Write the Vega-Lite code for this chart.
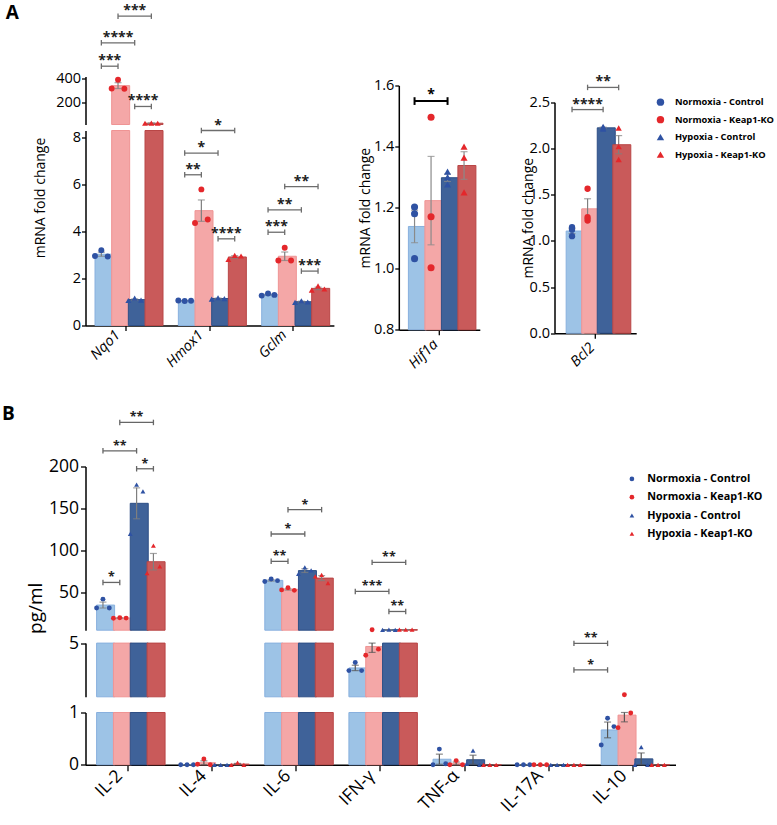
{
"$schema":"https://vega.github.io/schema/vega-lite/v6.json",
"padding":{"left":1.5,"top":3.5,"right":0,"bottom":0},
"config":{"font":"Open Sans","view":{"stroke":null},
 "axis":{"domainColor":"#000","domainWidth":1.5,"tickColor":"#000","tickWidth":1.3,"tickSize":5,"labelColor":"#000","titleColor":"#000","grid":false,"labelPadding":2,"titleFontWeight":"normal"},
 "legend":{"padding":0}},
"params":[{"name":"D","value":["Nqo1|NC","Nqo1|NK","Nqo1|HC","Nqo1|HK","sA1","Hmox1|NC","Hmox1|NK","Hmox1|HC","Hmox1|HK","sA2","Gclm|NC","Gclm|NK","Gclm|HC","Gclm|HK","Hif1a|NC","Hif1a|NK","Hif1a|HC","Hif1a|HK","Bcl2|NC","Bcl2|NK","Bcl2|HC","Bcl2|HK","IL-2|NC","IL-2|NK","IL-2|HC","IL-2|HK","sB1","IL-4|NC","IL-4|NK","IL-4|HC","IL-4|HK","sB2","IL-6|NC","IL-6|NK","IL-6|HC","IL-6|HK","sB3","IFN-γ|NC","IFN-γ|NK","IFN-γ|HC","IFN-γ|HK","sB4","TNF-α|NC","TNF-α|NK","TNF-α|HC","TNF-α|HK","sB5","IL-17A|NC","IL-17A|NK","IL-17A|HC","IL-17A|HK","sB6","IL-10|NC","IL-10|NK","IL-10|HC","IL-10|HK"]}],
"datasets":{
"a1":[
{"g":"Nqo1","c":"NC","v":2.95},{"g":"Nqo1","c":"NC","v":3.2},{"g":"Nqo1","c":"NC","v":2.93},
{"g":"Nqo1","c":"NK","v":318},{"g":"Nqo1","c":"NK","v":392},{"g":"Nqo1","c":"NK","v":316},
{"g":"Nqo1","c":"HC","v":1.06},{"g":"Nqo1","c":"HC","v":1.16},{"g":"Nqo1","c":"HC","v":1.08},
{"g":"Nqo1","c":"HK","v":21},{"g":"Nqo1","c":"HK","v":21.5},{"g":"Nqo1","c":"HK","v":20.5},
{"g":"Hmox1","c":"NC","v":1.06},{"g":"Hmox1","c":"NC","v":1.04},{"g":"Hmox1","c":"NC","v":1.05},
{"g":"Hmox1","c":"NK","v":4.35},{"g":"Hmox1","c":"NK","v":5.78},{"g":"Hmox1","c":"NK","v":4.5},
{"g":"Hmox1","c":"HC","v":1.12},{"g":"Hmox1","c":"HC","v":1.18},{"g":"Hmox1","c":"HC","v":1.14},
{"g":"Hmox1","c":"HK","v":2.8},{"g":"Hmox1","c":"HK","v":2.98},{"g":"Hmox1","c":"HK","v":2.95},
{"g":"Gclm","c":"NC","v":1.27},{"g":"Gclm","c":"NC","v":1.36},{"g":"Gclm","c":"NC","v":1.3},
{"g":"Gclm","c":"NK","v":2.76},{"g":"Gclm","c":"NK","v":3.3},{"g":"Gclm","c":"NK","v":2.76},
{"g":"Gclm","c":"HC","v":0.98},{"g":"Gclm","c":"HC","v":1.05},{"g":"Gclm","c":"HC","v":1.0},
{"g":"Gclm","c":"HK","v":1.5},{"g":"Gclm","c":"HK","v":1.68},{"g":"Gclm","c":"HK","v":1.55}],
"a2":[
{"g":"Hif1a","c":"NC","v":1.202},{"g":"Hif1a","c":"NC","v":1.18},{"g":"Hif1a","c":"NC","v":1.033},
{"g":"Hif1a","c":"NK","v":1.496},{"g":"Hif1a","c":"NK","v":1.17},{"g":"Hif1a","c":"NK","v":1.003},
{"g":"Hif1a","c":"HC","v":1.318},{"g":"Hif1a","c":"HC","v":1.3},{"g":"Hif1a","c":"HC","v":1.276},
{"g":"Hif1a","c":"HK","v":1.4},{"g":"Hif1a","c":"HK","v":1.364},{"g":"Hif1a","c":"HK","v":1.25}],
"a3":[
{"g":"Bcl2","c":"NC","v":1.147},{"g":"Bcl2","c":"NC","v":1.05},{"g":"Bcl2","c":"NC","v":1.12},
{"g":"Bcl2","c":"NK","v":1.22},{"g":"Bcl2","c":"NK","v":1.563},{"g":"Bcl2","c":"NK","v":1.255},
{"g":"Bcl2","c":"HC","v":2.21},{"g":"Bcl2","c":"HC","v":2.237},{"g":"Bcl2","c":"HC","v":2.22},
{"g":"Bcl2","c":"HK","v":1.88},{"g":"Bcl2","c":"HK","v":2.22},{"g":"Bcl2","c":"HK","v":2.02}],
"b":[
{"g":"IL-2","c":"NC","v":31.4},{"g":"IL-2","c":"NC","v":42},{"g":"IL-2","c":"NC","v":31.4},
{"g":"IL-2","c":"NK","v":19.3},{"g":"IL-2","c":"NK","v":19.8},{"g":"IL-2","c":"NK","v":19.4},
{"g":"IL-2","c":"HC","v":119.6},{"g":"IL-2","c":"HC","v":178.4},{"g":"IL-2","c":"HC","v":170.4},
{"g":"IL-2","c":"HK","v":73},{"g":"IL-2","c":"HK","v":105.7},{"g":"IL-2","c":"HK","v":81},
{"g":"IL-4","c":"NC","v":0},{"g":"IL-4","c":"NC","v":0},{"g":"IL-4","c":"NC","v":0},
{"g":"IL-4","c":"NK","v":0.01},{"g":"IL-4","c":"NK","v":0.11},{"g":"IL-4","c":"NK","v":0},
{"g":"IL-4","c":"HC","v":0},{"g":"IL-4","c":"HC","v":0},{"g":"IL-4","c":"HC","v":0},
{"g":"IL-4","c":"HK","v":0},{"g":"IL-4","c":"HK","v":0.04},{"g":"IL-4","c":"HK","v":0},
{"g":"IL-6","c":"NC","v":63},{"g":"IL-6","c":"NC","v":66},{"g":"IL-6","c":"NC","v":64},
{"g":"IL-6","c":"NK","v":53},{"g":"IL-6","c":"NK","v":55.5},{"g":"IL-6","c":"NK","v":52.5},
{"g":"IL-6","c":"HC","v":72},{"g":"IL-6","c":"HC","v":79.8},{"g":"IL-6","c":"HC","v":76.2},
{"g":"IL-6","c":"HK","v":69},{"g":"IL-6","c":"HK","v":71},{"g":"IL-6","c":"HK","v":61.2},
{"g":"IFN-γ","c":"NC","v":2.95},{"g":"IFN-γ","c":"NC","v":3.55},{"g":"IFN-γ","c":"NC","v":2.95},
{"g":"IFN-γ","c":"NK","v":4.1},{"g":"IFN-γ","c":"NK","v":5.6},{"g":"IFN-γ","c":"NK","v":4.55},
{"g":"IFN-γ","c":"HC","v":5.5},{"g":"IFN-γ","c":"HC","v":5.55},{"g":"IFN-γ","c":"HC","v":5.5},
{"g":"IFN-γ","c":"HK","v":5.7},{"g":"IFN-γ","c":"HK","v":5.8},{"g":"IFN-γ","c":"HK","v":5.65},
{"g":"TNF-α","c":"NC","v":0},{"g":"TNF-α","c":"NC","v":0.3},{"g":"TNF-α","c":"NC","v":0.02},
{"g":"TNF-α","c":"NK","v":0},{"g":"TNF-α","c":"NK","v":0.08},{"g":"TNF-α","c":"NK","v":0},
{"g":"TNF-α","c":"HC","v":0.02},{"g":"TNF-α","c":"HC","v":0.27},{"g":"TNF-α","c":"HC","v":0},
{"g":"TNF-α","c":"HK","v":0},{"g":"TNF-α","c":"HK","v":0},{"g":"TNF-α","c":"HK","v":0},
{"g":"IL-17A","c":"NC","v":0},{"g":"IL-17A","c":"NC","v":0},{"g":"IL-17A","c":"NC","v":0},
{"g":"IL-17A","c":"NK","v":0},{"g":"IL-17A","c":"NK","v":0},{"g":"IL-17A","c":"NK","v":0},
{"g":"IL-17A","c":"HC","v":0},{"g":"IL-17A","c":"HC","v":0},{"g":"IL-17A","c":"HC","v":0},
{"g":"IL-17A","c":"HK","v":0},{"g":"IL-17A","c":"HK","v":0},{"g":"IL-17A","c":"HK","v":0},
{"g":"IL-10","c":"NC","v":0.38},{"g":"IL-10","c":"NC","v":0.89},{"g":"IL-10","c":"NC","v":0.73},
{"g":"IL-10","c":"NK","v":0.71},{"g":"IL-10","c":"NK","v":1.15},{"g":"IL-10","c":"NK","v":0.99},
{"g":"IL-10","c":"HC","v":0},{"g":"IL-10","c":"HC","v":0.34},{"g":"IL-10","c":"HC","v":0},
{"g":"IL-10","c":"HK","v":0},{"g":"IL-10","c":"HK","v":0},{"g":"IL-10","c":"HK","v":0}],
"ka1":[
{"a":"Nqo1|NC","b":"Nqo1|NK","y":508,"t":"***"},
{"a":"Nqo1|NC","b":"Nqo1|HC","y":708,"t":"****"},
{"a":"Nqo1|NK","b":"Nqo1|HK","y":935,"t":"***"},
{"a":"Nqo1|HC","b":"Nqo1|HK","y":164,"t":"****"},
{"a":"Hmox1|NC","b":"Hmox1|NK","y":6.4,"t":"**"},
{"a":"Hmox1|NC","b":"Hmox1|HC","y":7.32,"t":"*"},
{"a":"Hmox1|NK","b":"Hmox1|HK","y":8.28,"t":"*"},
{"a":"Hmox1|HC","b":"Hmox1|HK","y":3.68,"t":"****"},
{"a":"Gclm|NC","b":"Gclm|NK","y":3.96,"t":"***"},
{"a":"Gclm|NC","b":"Gclm|HC","y":4.91,"t":"**"},
{"a":"Gclm|NK","b":"Gclm|HK","y":5.9,"t":"**"},
{"a":"Gclm|HC","b":"Gclm|HK","y":2.31,"t":"***"}],
"ka2":[{"a":"Hif1a|NC","b":"Hif1a|HC","y":1.549,"t":"*"}],
"ka3":[{"a":"Bcl2|NC","b":"Bcl2|HC","y":2.42,"t":"****"},{"a":"Bcl2|NK","b":"Bcl2|HK","y":2.66,"t":"**"}],
"kb":[
{"a":"IL-2|NC","b":"IL-2|NK","y":61.9,"t":"*"},
{"a":"IL-2|NC","b":"IL-2|HC","y":218.7,"t":"**"},
{"a":"IL-2|NK","b":"IL-2|HK","y":252.5,"t":"**"},
{"a":"IL-2|HC","b":"IL-2|HK","y":197.3,"t":"*"},
{"a":"IL-6|NC","b":"IL-6|NK","y":87,"t":"**"},
{"a":"IL-6|NC","b":"IL-6|HC","y":119.6,"t":"*"},
{"a":"IL-6|NK","b":"IL-6|HK","y":148.6,"t":"*"},
{"a":"IFN-γ|NC","b":"IFN-γ|HC","y":51.2,"t":"***"},
{"a":"IFN-γ|NK","b":"IFN-γ|HK","y":85.8,"t":"**"},
{"a":"IFN-γ|HC","b":"IFN-γ|HK","y":27.3,"t":"**"},
{"a":"IL-17A|HK","b":"IL-10|NC","y":4.98,"t":"**"},
{"a":"IL-17A|HK","b":"IL-10|NC","y":3.0,"t":"*"}]
},
"vconcat":[
{"hconcat":[
 {"width":248.4,"height":249,"resolve":{"scale":{"y":"independent"}},"layer":[
  {"layer":[
   {"data":{"name":"a1"},"transform":[{"calculate":"datum.g+'|'+datum.c","as":"s"},{"joinaggregate":[{"op":"mean","field":"v","as":"m"}],"groupby":["s"]},{"filter":"datum.m>=9"}],"mark":{"type":"bar","strokeWidth":1},
    "encoding":{"x":{"field":"s","type":"nominal","scale":{"domain":["Nqo1|NC","Nqo1|NK","Nqo1|HC","Nqo1|HK","sA1","Hmox1|NC","Hmox1|NK","Hmox1|HC","Hmox1|HK","sA2","Gclm|NC","Gclm|NK","Gclm|HC","Gclm|HK"],"paddingInner":0.238,"paddingOuter":0.57}},
     "y":{"aggregate":"mean","field":"v","type":"quantitative","title":"A","scale":{"domain":[10,420],"range":[48,0],"clamp":true,"zero":false,"nice":false},"axis":{"orient":"left","values":[200,400],"labelFontSize":14.5,"tickSize":4,"labelPadding":1,"titleAngle":0,"titleAlign":"left","titleBaseline":"alphabetic","titleFontSize":19,"titleFontWeight":"bold","titleX":-80.3,"titleY":-57.7}},
     "fill":{"field":"c","type":"nominal","scale":{"domain":["NC","NK","HC","HK"],"range":["#9DC3E6","#F4A7A7","#3F6299","#C95A5A"]},"legend":null},
     "stroke":{"field":"c","type":"nominal","scale":{"domain":["NC","NK","HC","HK"],"range":["#88B0DE","#EF9494","#2E4F86","#B94646"]},"legend":null}}},
   {"data":{"name":"a1"},"transform":[{"calculate":"datum.g+'|'+datum.c","as":"s"},{"joinaggregate":[{"op":"mean","field":"v","as":"m"}],"groupby":["s"]},{"filter":"datum.m>=9"}],"mark":{"type":"errorbar","extent":"stderr","color":"#7f7f7f","ticks":{"size":7,"thickness":1.2},"rule":{"strokeWidth":1.2}},
    "encoding":{"x":{"field":"s","type":"nominal","scale":{"domain":["Nqo1|NC","Nqo1|NK","Nqo1|HC","Nqo1|HK","sA1","Hmox1|NC","Hmox1|NK","Hmox1|HC","Hmox1|HK","sA2","Gclm|NC","Gclm|NK","Gclm|HC","Gclm|HK"],"paddingInner":0.238,"paddingOuter":0.57}},"y":{"field":"v","type":"quantitative","title":"A","scale":{"domain":[10,420],"range":[48,0],"clamp":true,"zero":false,"nice":false}}}},
   {"data":{"name":"a1"},"transform":[{"calculate":"datum.g+'|'+datum.c","as":"s"},{"window":[{"op":"row_number","as":"r"}],"groupby":["s"]},{"filter":"datum.v>=9"}],"mark":{"type":"point","filled":true,"size":35,"opacity":1},
    "encoding":{"x":{"field":"s","type":"nominal","scale":{"domain":["Nqo1|NC","Nqo1|NK","Nqo1|HC","Nqo1|HK","sA1","Hmox1|NC","Hmox1|NK","Hmox1|HC","Hmox1|HK","sA2","Gclm|NC","Gclm|NK","Gclm|HC","Gclm|HK"],"paddingInner":0.238,"paddingOuter":0.57}},"xOffset":{"field":"r","type":"nominal","scale":{"paddingInner":0,"paddingOuter":0}},"y":{"field":"v","type":"quantitative","title":"A","scale":{"domain":[10,420],"range":[48,0],"clamp":true,"zero":false,"nice":false}},
     "color":{"field":"c","type":"nominal","scale":{"domain":["NC","NK","HC","HK"],"range":["#2F52A3","#E4272B","#2F52A3","#E4272B"]},"legend":null},
     "shape":{"field":"c","type":"nominal","scale":{"domain":["NC","NK","HC","HK"],"range":["circle","circle","triangle-up","triangle-up"]},"legend":null}}}
  ]},
  {"layer":[
   {"data":{"name":"ka1"},"transform":[{"filter":"datum.y>=9"}],"mark":{"type":"rule","color":"#6d6d6d","strokeWidth":1.3},
    "encoding":{"x":{"field":"a","type":"nominal","scale":{"domain":["Nqo1|NC","Nqo1|NK","Nqo1|HC","Nqo1|HK","sA1","Hmox1|NC","Hmox1|NK","Hmox1|HC","Hmox1|HK","sA2","Gclm|NC","Gclm|NK","Gclm|HC","Gclm|HK"],"paddingInner":0.238,"paddingOuter":0.57}},"x2":{"field":"b"},"y":{"field":"y","type":"quantitative","scale":{"domain":[10,420],"range":[48,0],"zero":false,"nice":false},"axis":null}}},
   {"data":{"name":"ka1"},"transform":[{"filter":"datum.y>=9"},{"fold":["a","b"],"as":["end","s"]}],"mark":{"type":"point","shape":"M0,-1L0,1","size":30,"color":"#6d6d6d","strokeWidth":1.3,"opacity":1},
    "encoding":{"x":{"field":"s","type":"nominal","scale":{"domain":["Nqo1|NC","Nqo1|NK","Nqo1|HC","Nqo1|HK","sA1","Hmox1|NC","Hmox1|NK","Hmox1|HC","Hmox1|HK","sA2","Gclm|NC","Gclm|NK","Gclm|HC","Gclm|HK"],"paddingInner":0.238,"paddingOuter":0.57}},"y":{"field":"y","type":"quantitative","scale":{"domain":[10,420],"range":[48,0],"zero":false,"nice":false},"axis":null}}},
   {"data":{"name":"ka1"},"transform":[{"filter":"datum.y>=9"},{"calculate":"(indexof(D,datum.a)+indexof(D,datum.b))/2","as":"mi"},{"filter":"datum.mi%1==0"},{"calculate":"D[datum.mi]","as":"s"}],"mark":{"type":"text","fontSize":14,"fontWeight":"bold","baseline":"alphabetic","dy":-1,"color":"#222"},
    "encoding":{"x":{"field":"s","type":"nominal","scale":{"domain":["Nqo1|NC","Nqo1|NK","Nqo1|HC","Nqo1|HK","sA1","Hmox1|NC","Hmox1|NK","Hmox1|HC","Hmox1|HK","sA2","Gclm|NC","Gclm|NK","Gclm|HC","Gclm|HK"],"paddingInner":0.238,"paddingOuter":0.57}},"y":{"field":"y","type":"quantitative","scale":{"domain":[10,420],"range":[48,0],"zero":false,"nice":false},"axis":null},"text":{"field":"t"}}},
   {"data":{"name":"ka1"},"transform":[{"filter":"datum.y>=9"},{"calculate":"(indexof(D,datum.a)+indexof(D,datum.b))/2","as":"mi"},{"filter":"datum.mi%1!=0"},{"calculate":"D[floor(datum.mi)]","as":"s"}],"mark":{"type":"text","fontSize":14,"fontWeight":"bold","baseline":"alphabetic","dy":-1,"color":"#222"},
    "encoding":{"x":{"field":"s","type":"nominal","bandPosition":1.156,"scale":{"domain":["Nqo1|NC","Nqo1|NK","Nqo1|HC","Nqo1|HK","sA1","Hmox1|NC","Hmox1|NK","Hmox1|HC","Hmox1|HK","sA2","Gclm|NC","Gclm|NK","Gclm|HC","Gclm|HK"],"paddingInner":0.238,"paddingOuter":0.57}},"y":{"field":"y","type":"quantitative","scale":{"domain":[10,420],"range":[48,0],"zero":false,"nice":false},"axis":null},"text":{"field":"t"}}}
  ]},
  {"layer":[
   {"data":{"name":"a1"},"transform":[{"calculate":"datum.g+'|'+datum.c","as":"s"}],"mark":{"type":"bar","strokeWidth":1},
    "encoding":{"x":{"field":"s","type":"nominal","scale":{"domain":["Nqo1|NC","Nqo1|NK","Nqo1|HC","Nqo1|HK","sA1","Hmox1|NC","Hmox1|NK","Hmox1|HC","Hmox1|HK","sA2","Gclm|NC","Gclm|NK","Gclm|HC","Gclm|HK"],"paddingInner":0.238,"paddingOuter":0.57},"axis":{"values":["Nqo1|NK","Hmox1|NK","Gclm|NK"],"bandPosition":1.156,"labelExpr":"split(datum.value,'|')[0]","labelAngle":-45,"labelFontSize":14.5,"labelFontStyle":"italic","title":null}},
     "y":{"aggregate":"mean","field":"v","type":"quantitative","title":"mRNA fold change","scale":{"domain":[0,8.28],"range":[249,54],"clamp":true,"zero":false,"nice":false},"axis":{"orient":"left","values":[0,2,4,6,8],"labelFontSize":14.5,"tickSize":4,"labelPadding":1,"titleFontSize":14,"titleX":-38,"titleY":121}},
     "fill":{"field":"c","type":"nominal","scale":{"domain":["NC","NK","HC","HK"],"range":["#9DC3E6","#F4A7A7","#3F6299","#C95A5A"]},"legend":null},
     "stroke":{"field":"c","type":"nominal","scale":{"domain":["NC","NK","HC","HK"],"range":["#88B0DE","#EF9494","#2E4F86","#B94646"]},"legend":null}}},
   {"data":{"name":"a1"},"transform":[{"calculate":"datum.g+'|'+datum.c","as":"s"},{"joinaggregate":[{"op":"mean","field":"v","as":"m"}],"groupby":["s"]},{"filter":"datum.m<9"}],"mark":{"type":"errorbar","extent":"stderr","color":"#7f7f7f","ticks":{"size":7,"thickness":1.2},"rule":{"strokeWidth":1.2}},
    "encoding":{"x":{"field":"s","type":"nominal","scale":{"domain":["Nqo1|NC","Nqo1|NK","Nqo1|HC","Nqo1|HK","sA1","Hmox1|NC","Hmox1|NK","Hmox1|HC","Hmox1|HK","sA2","Gclm|NC","Gclm|NK","Gclm|HC","Gclm|HK"],"paddingInner":0.238,"paddingOuter":0.57}},"y":{"field":"v","type":"quantitative","title":"mRNA fold change","scale":{"domain":[0,8.28],"range":[249,54],"clamp":true,"zero":false,"nice":false}}}},
   {"data":{"name":"a1"},"transform":[{"calculate":"datum.g+'|'+datum.c","as":"s"},{"window":[{"op":"row_number","as":"r"}],"groupby":["s"]},{"filter":"datum.v<9"}],"mark":{"type":"point","filled":true,"size":35,"opacity":1},
    "encoding":{"x":{"field":"s","type":"nominal","scale":{"domain":["Nqo1|NC","Nqo1|NK","Nqo1|HC","Nqo1|HK","sA1","Hmox1|NC","Hmox1|NK","Hmox1|HC","Hmox1|HK","sA2","Gclm|NC","Gclm|NK","Gclm|HC","Gclm|HK"],"paddingInner":0.238,"paddingOuter":0.57}},"xOffset":{"field":"r","type":"nominal","scale":{"paddingInner":0,"paddingOuter":0}},"y":{"field":"v","type":"quantitative","title":"mRNA fold change","scale":{"domain":[0,8.28],"range":[249,54],"clamp":true,"zero":false,"nice":false}},
     "color":{"field":"c","type":"nominal","scale":{"domain":["NC","NK","HC","HK"],"range":["#2F52A3","#E4272B","#2F52A3","#E4272B"]},"legend":null},
     "shape":{"field":"c","type":"nominal","scale":{"domain":["NC","NK","HC","HK"],"range":["circle","circle","triangle-up","triangle-up"]},"legend":null}}}
  ]},
  {"layer":[
   {"data":{"name":"ka1"},"transform":[{"filter":"datum.y<9"}],"mark":{"type":"rule","color":"#6d6d6d","strokeWidth":1.3},
    "encoding":{"x":{"field":"a","type":"nominal","scale":{"domain":["Nqo1|NC","Nqo1|NK","Nqo1|HC","Nqo1|HK","sA1","Hmox1|NC","Hmox1|NK","Hmox1|HC","Hmox1|HK","sA2","Gclm|NC","Gclm|NK","Gclm|HC","Gclm|HK"],"paddingInner":0.238,"paddingOuter":0.57}},"x2":{"field":"b"},"y":{"field":"y","type":"quantitative","scale":{"domain":[0,8.28],"range":[249,54],"zero":false,"nice":false},"axis":null}}},
   {"data":{"name":"ka1"},"transform":[{"filter":"datum.y<9"},{"fold":["a","b"],"as":["end","s"]}],"mark":{"type":"point","shape":"M0,-1L0,1","size":30,"color":"#6d6d6d","strokeWidth":1.3,"opacity":1},
    "encoding":{"x":{"field":"s","type":"nominal","scale":{"domain":["Nqo1|NC","Nqo1|NK","Nqo1|HC","Nqo1|HK","sA1","Hmox1|NC","Hmox1|NK","Hmox1|HC","Hmox1|HK","sA2","Gclm|NC","Gclm|NK","Gclm|HC","Gclm|HK"],"paddingInner":0.238,"paddingOuter":0.57}},"y":{"field":"y","type":"quantitative","scale":{"domain":[0,8.28],"range":[249,54],"zero":false,"nice":false},"axis":null}}},
   {"data":{"name":"ka1"},"transform":[{"filter":"datum.y<9"},{"calculate":"(indexof(D,datum.a)+indexof(D,datum.b))/2","as":"mi"},{"filter":"datum.mi%1==0"},{"calculate":"D[datum.mi]","as":"s"}],"mark":{"type":"text","fontSize":14,"fontWeight":"bold","baseline":"alphabetic","dy":-1,"color":"#222"},
    "encoding":{"x":{"field":"s","type":"nominal","scale":{"domain":["Nqo1|NC","Nqo1|NK","Nqo1|HC","Nqo1|HK","sA1","Hmox1|NC","Hmox1|NK","Hmox1|HC","Hmox1|HK","sA2","Gclm|NC","Gclm|NK","Gclm|HC","Gclm|HK"],"paddingInner":0.238,"paddingOuter":0.57}},"y":{"field":"y","type":"quantitative","scale":{"domain":[0,8.28],"range":[249,54],"zero":false,"nice":false},"axis":null},"text":{"field":"t"}}},
   {"data":{"name":"ka1"},"transform":[{"filter":"datum.y<9"},{"calculate":"(indexof(D,datum.a)+indexof(D,datum.b))/2","as":"mi"},{"filter":"datum.mi%1!=0"},{"calculate":"D[floor(datum.mi)]","as":"s"}],"mark":{"type":"text","fontSize":14,"fontWeight":"bold","baseline":"alphabetic","dy":-1,"color":"#222"},
    "encoding":{"x":{"field":"s","type":"nominal","bandPosition":1.156,"scale":{"domain":["Nqo1|NC","Nqo1|NK","Nqo1|HC","Nqo1|HK","sA1","Hmox1|NC","Hmox1|NK","Hmox1|HC","Hmox1|HK","sA2","Gclm|NC","Gclm|NK","Gclm|HC","Gclm|HK"],"paddingInner":0.238,"paddingOuter":0.57}},"y":{"field":"y","type":"quantitative","scale":{"domain":[0,8.28],"range":[249,54],"zero":false,"nice":false},"axis":null},"text":{"field":"t"}}}
  ]}
 ]},
 {"width":237.4,"height":256.7,"resolve":{"scale":{"x":"independent","y":"independent"}},"layer":[
  {"layer":[
   {"data":{"name":"a2"},"transform":[{"calculate":"datum.g+'|'+datum.c","as":"s"}],"mark":{"type":"bar","strokeWidth":1},
    "encoding":{"x":{"field":"s","type":"nominal","scale":{"domain":["Hif1a|NC","Hif1a|NK","Hif1a|HC","Hif1a|HK"],"range":[0,81],"paddingInner":0.255,"paddingOuter":0.582},"axis":{"orient":"bottom","offset":-3.4,"values":["Hif1a|NK"],"bandPosition":1.171,"labelExpr":"split(datum.value,'|')[0]","labelAngle":-45,"labelFontSize":14.5,"labelFontStyle":"italic","title":null}},
     "y":{"aggregate":"mean","field":"v","type":"quantitative","title":"mRNA fold change","scale":{"domain":[0.8,1.6],"range":[253.3,9],"clamp":true,"zero":false,"nice":false},"axis":{"orient":"left","values":[0.8,1.0,1.2,1.4,1.6],"format":".1f","labelFontSize":14.5,"tickSize":4,"labelPadding":1,"titleFontSize":14,"titleX":-26}},
     "fill":{"field":"c","type":"nominal","scale":{"domain":["NC","NK","HC","HK"],"range":["#9DC3E6","#F4A7A7","#3F6299","#C95A5A"]},"legend":null},
     "stroke":{"field":"c","type":"nominal","scale":{"domain":["NC","NK","HC","HK"],"range":["#88B0DE","#EF9494","#2E4F86","#B94646"]},"legend":null}}},
   {"data":{"name":"a2"},"transform":[{"calculate":"datum.g+'|'+datum.c","as":"s"}],"mark":{"type":"errorbar","extent":"stderr","color":"#8a8a8a","ticks":{"size":7,"thickness":1.2},"rule":{"strokeWidth":1.2}},
    "encoding":{"x":{"field":"s","type":"nominal","scale":{"domain":["Hif1a|NC","Hif1a|NK","Hif1a|HC","Hif1a|HK"],"range":[0,81],"paddingInner":0.255,"paddingOuter":0.582}},"y":{"field":"v","type":"quantitative","title":"mRNA fold change","scale":{"domain":[0.8,1.6],"range":[253.3,9],"clamp":true,"zero":false,"nice":false}}}},
   {"data":{"name":"a2"},"transform":[{"calculate":"datum.g+'|'+datum.c","as":"s"}],"mark":{"type":"point","filled":true,"size":50,"opacity":1},
    "encoding":{"x":{"field":"s","type":"nominal","scale":{"domain":["Hif1a|NC","Hif1a|NK","Hif1a|HC","Hif1a|HK"],"range":[0,81],"paddingInner":0.255,"paddingOuter":0.582}},"y":{"field":"v","type":"quantitative","title":"mRNA fold change","scale":{"domain":[0.8,1.6],"range":[253.3,9],"clamp":true,"zero":false,"nice":false}},
     "color":{"field":"c","type":"nominal","scale":{"domain":["NC","NK","HC","HK"],"range":["#2F52A3","#E4272B","#2F52A3","#E4272B"]}},
     "shape":{"field":"c","type":"nominal","scale":{"domain":["NC","NK","HC","HK"],"range":["circle","circle","triangle-up","triangle-up"]}}}},
   {"data":{"name":"ka2"},"mark":{"type":"rule","color":"#000","strokeWidth":2},
    "encoding":{"x":{"field":"a","type":"nominal","scale":{"domain":["Hif1a|NC","Hif1a|NK","Hif1a|HC","Hif1a|HK"],"range":[0,81],"paddingInner":0.255,"paddingOuter":0.582}},"x2":{"field":"b"},"y":{"field":"y","type":"quantitative","title":"mRNA fold change","scale":{"domain":[0.8,1.6],"range":[253.3,9],"clamp":true,"zero":false,"nice":false}}}},
   {"data":{"name":"ka2"},"transform":[{"fold":["a","b"],"as":["end","s"]}],"mark":{"type":"point","shape":"M0,-1L0,1","size":60,"color":"#000","strokeWidth":2,"opacity":1},
    "encoding":{"x":{"field":"s","type":"nominal","scale":{"domain":["Hif1a|NC","Hif1a|NK","Hif1a|HC","Hif1a|HK"],"range":[0,81],"paddingInner":0.255,"paddingOuter":0.582}},"y":{"field":"y","type":"quantitative","title":"mRNA fold change","scale":{"domain":[0.8,1.6],"range":[253.3,9],"clamp":true,"zero":false,"nice":false}}}},
   {"data":{"name":"ka2"},"transform":[{"calculate":"(indexof(D,datum.a)+indexof(D,datum.b))/2","as":"mi"},{"calculate":"D[datum.mi]","as":"s"}],"mark":{"type":"text","fontSize":14,"fontWeight":"bold","baseline":"alphabetic","dy":-2,"color":"#000"},
    "encoding":{"x":{"field":"s","type":"nominal","scale":{"domain":["Hif1a|NC","Hif1a|NK","Hif1a|HC","Hif1a|HK"],"range":[0,81],"paddingInner":0.255,"paddingOuter":0.582}},"y":{"field":"y","type":"quantitative","title":"mRNA fold change","scale":{"domain":[0.8,1.6],"range":[253.3,9],"clamp":true,"zero":false,"nice":false}},"text":{"field":"t"}}}
  ]},
  {"layer":[
   {"data":{"name":"a3"},"transform":[{"calculate":"datum.g+'|'+datum.c","as":"s"}],"mark":{"type":"bar","strokeWidth":1},
    "encoding":{"x":{"field":"s","type":"nominal","scale":{"domain":["Bcl2|NC","Bcl2|NK","Bcl2|HC","Bcl2|HK"],"range":[155.7,237.4],"paddingInner":0.245,"paddingOuter":0.75},"axis":{"orient":"bottom","values":["Bcl2|NK"],"bandPosition":1.162,"labelExpr":"split(datum.value,'|')[0]","labelAngle":-45,"labelFontSize":14.5,"labelFontStyle":"italic","title":null}},
     "y":{"aggregate":"mean","field":"v","type":"quantitative","title":"mRNA fold change","scale":{"domain":[0,2.5],"range":[256.7,25.7],"zero":false,"nice":false},"axis":{"orient":"left","offset":-155.7,"values":[0,0.5,1,1.5,2,2.5],"format":".1f","labelFontSize":14.5,"tickSize":4,"labelPadding":1,"titleFontSize":14,"titleX":-19}},
     "fill":{"field":"c","type":"nominal","scale":{"domain":["NC","NK","HC","HK"],"range":["#9DC3E6","#F4A7A7","#3F6299","#C95A5A"]},"legend":null},
     "stroke":{"field":"c","type":"nominal","scale":{"domain":["NC","NK","HC","HK"],"range":["#88B0DE","#EF9494","#2E4F86","#B94646"]},"legend":null}}},
   {"data":{"name":"a3"},"transform":[{"calculate":"datum.g+'|'+datum.c","as":"s"}],"mark":{"type":"errorbar","extent":"stderr","color":"#7f7f7f","ticks":{"size":7,"thickness":1.2},"rule":{"strokeWidth":1.2}},
    "encoding":{"x":{"field":"s","type":"nominal","scale":{"domain":["Bcl2|NC","Bcl2|NK","Bcl2|HC","Bcl2|HK"],"range":[155.7,237.4],"paddingInner":0.245,"paddingOuter":0.75}},"y":{"field":"v","type":"quantitative","title":"mRNA fold change","scale":{"domain":[0,2.5],"range":[256.7,25.7],"zero":false,"nice":false}}}},
   {"data":{"name":"a3"},"transform":[{"calculate":"datum.g+'|'+datum.c","as":"s"}],"mark":{"type":"point","filled":true,"size":40,"opacity":1},
    "encoding":{"x":{"field":"s","type":"nominal","scale":{"domain":["Bcl2|NC","Bcl2|NK","Bcl2|HC","Bcl2|HK"],"range":[155.7,237.4],"paddingInner":0.245,"paddingOuter":0.75}},"y":{"field":"v","type":"quantitative","title":"mRNA fold change","scale":{"domain":[0,2.5],"range":[256.7,25.7],"zero":false,"nice":false}},
     "color":{"field":"c","type":"nominal","scale":{"domain":["NC","NK","HC","HK"],"range":["#2F52A3","#E4272B","#2F52A3","#E4272B"]},"legend":{"orient":"none","legendX":257,"legendY":21,"title":null,"labelExpr":"datum.label=='NC'?'Normoxia - Control':datum.label=='NK'?'Normoxia - Keap1-KO':datum.label=='HC'?'Hypoxia - Control':'Hypoxia - Keap1-KO'","labelFontSize":9.3,"labelFontWeight":"bold","labelColor":"#000","symbolSize":55,"rowPadding":7.5,"labelOffset":9.8,"symbolStrokeWidth":0}},
     "shape":{"field":"c","type":"nominal","scale":{"domain":["NC","NK","HC","HK"],"range":["circle","circle","triangle-up","triangle-up"]},"legend":{"orient":"none","legendX":257,"legendY":21,"title":null,"labelExpr":"datum.label=='NC'?'Normoxia - Control':datum.label=='NK'?'Normoxia - Keap1-KO':datum.label=='HC'?'Hypoxia - Control':'Hypoxia - Keap1-KO'","labelFontSize":9.3,"labelFontWeight":"bold","labelColor":"#000","symbolSize":55,"rowPadding":7.5,"labelOffset":9.8,"symbolStrokeWidth":0}}}},
   {"data":{"name":"ka3"},"mark":{"type":"rule","color":"#6d6d6d","strokeWidth":1.3},
    "encoding":{"x":{"field":"a","type":"nominal","scale":{"domain":["Bcl2|NC","Bcl2|NK","Bcl2|HC","Bcl2|HK"],"range":[155.7,237.4],"paddingInner":0.245,"paddingOuter":0.75}},"x2":{"field":"b"},"y":{"field":"y","type":"quantitative","title":"mRNA fold change","scale":{"domain":[0,2.5],"range":[256.7,25.7],"zero":false,"nice":false}}}},
   {"data":{"name":"ka3"},"transform":[{"fold":["a","b"],"as":["end","s"]}],"mark":{"type":"point","shape":"M0,-1L0,1","size":30,"color":"#6d6d6d","strokeWidth":1.3,"opacity":1},
    "encoding":{"x":{"field":"s","type":"nominal","scale":{"domain":["Bcl2|NC","Bcl2|NK","Bcl2|HC","Bcl2|HK"],"range":[155.7,237.4],"paddingInner":0.245,"paddingOuter":0.75}},"y":{"field":"y","type":"quantitative","title":"mRNA fold change","scale":{"domain":[0,2.5],"range":[256.7,25.7],"zero":false,"nice":false}}}},
   {"data":{"name":"ka3"},"transform":[{"calculate":"(indexof(D,datum.a)+indexof(D,datum.b))/2","as":"mi"},{"calculate":"D[datum.mi]","as":"s"}],"mark":{"type":"text","fontSize":14,"fontWeight":"bold","baseline":"alphabetic","dy":-1,"color":"#222"},
    "encoding":{"x":{"field":"s","type":"nominal","scale":{"domain":["Bcl2|NC","Bcl2|NK","Bcl2|HC","Bcl2|HK"],"range":[155.7,237.4],"paddingInner":0.245,"paddingOuter":0.75}},"y":{"field":"y","type":"quantitative","title":"mRNA fold change","scale":{"domain":[0,2.5],"range":[256.7,25.7],"zero":false,"nice":false}},"text":{"field":"t"}}}
  ]}
 ]}
],"spacing":24.3,"resolve":{"legend":{"color":"independent","shape":"independent"}}},
{"hconcat":[
 {"width":590,"height":298.3,"resolve":{"scale":{"y":"independent"}},"layer":[
  {"layer":[
   {"data":{"name":"b"},"transform":[{"calculate":"datum.g+'|'+datum.c","as":"s"},{"joinaggregate":[{"op":"mean","field":"v","as":"m"}],"groupby":["s"]},{"filter":"datum.m>=5"}],"mark":{"type":"bar","strokeWidth":1},
    "encoding":{"x":{"field":"s","type":"nominal","scale":{"domain":["IL-2|NC","IL-2|NK","IL-2|HC","IL-2|HK","sB1","IL-4|NC","IL-4|NK","IL-4|HC","IL-4|HK","sB2","IL-6|NC","IL-6|NK","IL-6|HC","IL-6|HK","sB3","IFN-γ|NC","IFN-γ|NK","IFN-γ|HC","IFN-γ|HK","sB4","TNF-α|NC","TNF-α|NK","TNF-α|HC","TNF-α|HK","sB5","IL-17A|NC","IL-17A|NK","IL-17A|HC","IL-17A|HK","sB6","IL-10|NC","IL-10|NK","IL-10|HC","IL-10|HK"],"paddingInner":0.244,"paddingOuter":0.66}},
     "y":{"aggregate":"mean","field":"v","type":"quantitative","title":"B","scale":{"domain":[5,200],"range":[163.7,0],"clamp":true,"zero":false,"nice":false},"axis":{"orient":"left","values":[50,100,150,200],"format":"d","labelFontSize":17.5,"titleAngle":0,"titleAlign":"left","titleBaseline":"alphabetic","titleFontSize":19,"titleFontWeight":"bold","titleX":-84,"titleY":-46.7}},
     "fill":{"field":"c","type":"nominal","scale":{"domain":["NC","NK","HC","HK"],"range":["#9DC3E6","#F4A7A7","#3F6299","#C95A5A"]},"legend":null},
     "stroke":{"field":"c","type":"nominal","scale":{"domain":["NC","NK","HC","HK"],"range":["#88B0DE","#EF9494","#2E4F86","#B94646"]},"legend":null}}},
   {"data":{"name":"b"},"transform":[{"calculate":"datum.g+'|'+datum.c","as":"s"},{"joinaggregate":[{"op":"mean","field":"v","as":"m"}],"groupby":["s"]},{"filter":"datum.m>=5"}],"mark":{"type":"errorbar","extent":"stderr","color":"#7f7f7f","ticks":{"size":7,"thickness":1.2},"rule":{"strokeWidth":1.2}},
    "encoding":{"x":{"field":"s","type":"nominal","scale":{"domain":["IL-2|NC","IL-2|NK","IL-2|HC","IL-2|HK","sB1","IL-4|NC","IL-4|NK","IL-4|HC","IL-4|HK","sB2","IL-6|NC","IL-6|NK","IL-6|HC","IL-6|HK","sB3","IFN-γ|NC","IFN-γ|NK","IFN-γ|HC","IFN-γ|HK","sB4","TNF-α|NC","TNF-α|NK","TNF-α|HC","TNF-α|HK","sB5","IL-17A|NC","IL-17A|NK","IL-17A|HC","IL-17A|HK","sB6","IL-10|NC","IL-10|NK","IL-10|HC","IL-10|HK"],"paddingInner":0.244,"paddingOuter":0.66}},"y":{"field":"v","type":"quantitative","title":"B","scale":{"domain":[5,200],"range":[163.7,0],"clamp":true,"zero":false,"nice":false}}}},
   {"data":{"name":"b"},"transform":[{"calculate":"datum.g+'|'+datum.c","as":"s"},{"window":[{"op":"row_number","as":"r"}],"groupby":["s"]},{"filter":"datum.v>=5"}],"mark":{"type":"point","filled":true,"size":24,"opacity":1},
    "encoding":{"x":{"field":"s","type":"nominal","scale":{"domain":["IL-2|NC","IL-2|NK","IL-2|HC","IL-2|HK","sB1","IL-4|NC","IL-4|NK","IL-4|HC","IL-4|HK","sB2","IL-6|NC","IL-6|NK","IL-6|HC","IL-6|HK","sB3","IFN-γ|NC","IFN-γ|NK","IFN-γ|HC","IFN-γ|HK","sB4","TNF-α|NC","TNF-α|NK","TNF-α|HC","TNF-α|HK","sB5","IL-17A|NC","IL-17A|NK","IL-17A|HC","IL-17A|HK","sB6","IL-10|NC","IL-10|NK","IL-10|HC","IL-10|HK"],"paddingInner":0.244,"paddingOuter":0.66}},"xOffset":{"field":"r","type":"nominal","scale":{"paddingInner":0,"paddingOuter":0}},"y":{"field":"v","type":"quantitative","title":"B","scale":{"domain":[5,200],"range":[163.7,0],"clamp":true,"zero":false,"nice":false}},
     "color":{"field":"c","type":"nominal","scale":{"domain":["NC","NK","HC","HK"],"range":["#2F52A3","#E4272B","#2F52A3","#E4272B"]},"legend":{"orient":"none","legendX":541,"legendY":7,"title":null,"labelExpr":"datum.label=='NC'?'Normoxia - Control':datum.label=='NK'?'Normoxia - Keap1-KO':datum.label=='HC'?'Hypoxia - Control':'Hypoxia - Keap1-KO'","labelFontSize":10.8,"labelFontWeight":"bold","labelColor":"#000","symbolSize":22,"rowPadding":6.3,"labelOffset":10,"symbolStrokeWidth":0}},
     "shape":{"field":"c","type":"nominal","scale":{"domain":["NC","NK","HC","HK"],"range":["circle","circle","triangle-up","triangle-up"]},"legend":{"orient":"none","legendX":541,"legendY":7,"title":null,"labelExpr":"datum.label=='NC'?'Normoxia - Control':datum.label=='NK'?'Normoxia - Keap1-KO':datum.label=='HC'?'Hypoxia - Control':'Hypoxia - Keap1-KO'","labelFontSize":10.8,"labelFontWeight":"bold","labelColor":"#000","symbolSize":22,"rowPadding":6.3,"labelOffset":10,"symbolStrokeWidth":0}}}}
  ]},
  {"layer":[
   {"data":{"name":"kb"},"transform":[{"filter":"datum.y>=5"}],"mark":{"type":"rule","color":"#666","strokeWidth":1.3},
    "encoding":{"x":{"field":"a","type":"nominal","scale":{"domain":["IL-2|NC","IL-2|NK","IL-2|HC","IL-2|HK","sB1","IL-4|NC","IL-4|NK","IL-4|HC","IL-4|HK","sB2","IL-6|NC","IL-6|NK","IL-6|HC","IL-6|HK","sB3","IFN-γ|NC","IFN-γ|NK","IFN-γ|HC","IFN-γ|HK","sB4","TNF-α|NC","TNF-α|NK","TNF-α|HC","TNF-α|HK","sB5","IL-17A|NC","IL-17A|NK","IL-17A|HC","IL-17A|HK","sB6","IL-10|NC","IL-10|NK","IL-10|HC","IL-10|HK"],"paddingInner":0.244,"paddingOuter":0.66}},"x2":{"field":"b"},"y":{"field":"y","type":"quantitative","scale":{"domain":[5,200],"range":[163.7,0],"zero":false,"nice":false},"axis":null}}},
   {"data":{"name":"kb"},"transform":[{"filter":"datum.y>=5"},{"fold":["a","b"],"as":["end","s"]}],"mark":{"type":"point","shape":"M0,-1L0,1","size":30,"color":"#666","strokeWidth":1.3,"opacity":1},
    "encoding":{"x":{"field":"s","type":"nominal","scale":{"domain":["IL-2|NC","IL-2|NK","IL-2|HC","IL-2|HK","sB1","IL-4|NC","IL-4|NK","IL-4|HC","IL-4|HK","sB2","IL-6|NC","IL-6|NK","IL-6|HC","IL-6|HK","sB3","IFN-γ|NC","IFN-γ|NK","IFN-γ|HC","IFN-γ|HK","sB4","TNF-α|NC","TNF-α|NK","TNF-α|HC","TNF-α|HK","sB5","IL-17A|NC","IL-17A|NK","IL-17A|HC","IL-17A|HK","sB6","IL-10|NC","IL-10|NK","IL-10|HC","IL-10|HK"],"paddingInner":0.244,"paddingOuter":0.66}},"y":{"field":"y","type":"quantitative","scale":{"domain":[5,200],"range":[163.7,0],"zero":false,"nice":false},"axis":null}}},
   {"data":{"name":"kb"},"transform":[{"filter":"datum.y>=5"},{"calculate":"(indexof(D,datum.a)+indexof(D,datum.b))/2","as":"mi"},{"filter":"datum.mi%1==0"},{"calculate":"D[datum.mi]","as":"s"}],"mark":{"type":"text","fontSize":12.5,"fontWeight":"bold","baseline":"alphabetic","dy":-1,"color":"#222"},
    "encoding":{"x":{"field":"s","type":"nominal","scale":{"domain":["IL-2|NC","IL-2|NK","IL-2|HC","IL-2|HK","sB1","IL-4|NC","IL-4|NK","IL-4|HC","IL-4|HK","sB2","IL-6|NC","IL-6|NK","IL-6|HC","IL-6|HK","sB3","IFN-γ|NC","IFN-γ|NK","IFN-γ|HC","IFN-γ|HK","sB4","TNF-α|NC","TNF-α|NK","TNF-α|HC","TNF-α|HK","sB5","IL-17A|NC","IL-17A|NK","IL-17A|HC","IL-17A|HK","sB6","IL-10|NC","IL-10|NK","IL-10|HC","IL-10|HK"],"paddingInner":0.244,"paddingOuter":0.66}},"y":{"field":"y","type":"quantitative","scale":{"domain":[5,200],"range":[163.7,0],"zero":false,"nice":false},"axis":null},"text":{"field":"t"}}},
   {"data":{"name":"kb"},"transform":[{"filter":"datum.y>=5"},{"calculate":"(indexof(D,datum.a)+indexof(D,datum.b))/2","as":"mi"},{"filter":"datum.mi%1!=0"},{"calculate":"D[floor(datum.mi)]","as":"s"}],"mark":{"type":"text","fontSize":12.5,"fontWeight":"bold","baseline":"alphabetic","dy":-1,"color":"#222"},
    "encoding":{"x":{"field":"s","type":"nominal","bandPosition":1.161,"scale":{"domain":["IL-2|NC","IL-2|NK","IL-2|HC","IL-2|HK","sB1","IL-4|NC","IL-4|NK","IL-4|HC","IL-4|HK","sB2","IL-6|NC","IL-6|NK","IL-6|HC","IL-6|HK","sB3","IFN-γ|NC","IFN-γ|NK","IFN-γ|HC","IFN-γ|HK","sB4","TNF-α|NC","TNF-α|NK","TNF-α|HC","TNF-α|HK","sB5","IL-17A|NC","IL-17A|NK","IL-17A|HC","IL-17A|HK","sB6","IL-10|NC","IL-10|NK","IL-10|HC","IL-10|HK"],"paddingInner":0.244,"paddingOuter":0.66}},"y":{"field":"y","type":"quantitative","scale":{"domain":[5,200],"range":[163.7,0],"zero":false,"nice":false},"axis":null},"text":{"field":"t"}}}
  ]},
  {"layer":[
   {"data":{"name":"b"},"transform":[{"calculate":"datum.g+'|'+datum.c","as":"s"},{"joinaggregate":[{"op":"mean","field":"v","as":"m"}],"groupby":["s"]},{"filter":"datum.m>=1"}],"mark":{"type":"bar","strokeWidth":1},
    "encoding":{"x":{"field":"s","type":"nominal","scale":{"domain":["IL-2|NC","IL-2|NK","IL-2|HC","IL-2|HK","sB1","IL-4|NC","IL-4|NK","IL-4|HC","IL-4|HK","sB2","IL-6|NC","IL-6|NK","IL-6|HC","IL-6|HK","sB3","IFN-γ|NC","IFN-γ|NK","IFN-γ|HC","IFN-γ|HK","sB4","TNF-α|NC","TNF-α|NK","TNF-α|HC","TNF-α|HK","sB5","IL-17A|NC","IL-17A|NK","IL-17A|HC","IL-17A|HK","sB6","IL-10|NC","IL-10|NK","IL-10|HC","IL-10|HK"],"paddingInner":0.244,"paddingOuter":0.66}},
     "y":{"aggregate":"mean","field":"v","type":"quantitative","title":"pg/ml","scale":{"domain":[1,5],"range":[230.3,176.6],"clamp":true,"zero":false,"nice":false},"axis":{"orient":"left","values":[5],"format":"d","labelFontSize":17.5,"titleFontSize":19,"titleX":-40,"titleY":141.3}},
     "fill":{"field":"c","type":"nominal","scale":{"domain":["NC","NK","HC","HK"],"range":["#9DC3E6","#F4A7A7","#3F6299","#C95A5A"]},"legend":null},
     "stroke":{"field":"c","type":"nominal","scale":{"domain":["NC","NK","HC","HK"],"range":["#88B0DE","#EF9494","#2E4F86","#B94646"]},"legend":null}}},
   {"data":{"name":"b"},"transform":[{"calculate":"datum.g+'|'+datum.c","as":"s"},{"joinaggregate":[{"op":"mean","field":"v","as":"m"}],"groupby":["s"]},{"filter":"datum.m>=1&&datum.m<5"}],"mark":{"type":"errorbar","extent":"stderr","color":"#555","ticks":{"size":7,"thickness":1.2},"rule":{"strokeWidth":1.2}},
    "encoding":{"x":{"field":"s","type":"nominal","scale":{"domain":["IL-2|NC","IL-2|NK","IL-2|HC","IL-2|HK","sB1","IL-4|NC","IL-4|NK","IL-4|HC","IL-4|HK","sB2","IL-6|NC","IL-6|NK","IL-6|HC","IL-6|HK","sB3","IFN-γ|NC","IFN-γ|NK","IFN-γ|HC","IFN-γ|HK","sB4","TNF-α|NC","TNF-α|NK","TNF-α|HC","TNF-α|HK","sB5","IL-17A|NC","IL-17A|NK","IL-17A|HC","IL-17A|HK","sB6","IL-10|NC","IL-10|NK","IL-10|HC","IL-10|HK"],"paddingInner":0.244,"paddingOuter":0.66}},"y":{"field":"v","type":"quantitative","title":"pg/ml","scale":{"domain":[1,5],"range":[230.3,176.6],"clamp":true,"zero":false,"nice":false}}}},
   {"data":{"name":"b"},"transform":[{"calculate":"datum.g+'|'+datum.c","as":"s"},{"window":[{"op":"row_number","as":"r"}],"groupby":["s"]},{"filter":"datum.v>=1&&datum.v<5"}],"mark":{"type":"point","filled":true,"size":24,"opacity":1},
    "encoding":{"x":{"field":"s","type":"nominal","scale":{"domain":["IL-2|NC","IL-2|NK","IL-2|HC","IL-2|HK","sB1","IL-4|NC","IL-4|NK","IL-4|HC","IL-4|HK","sB2","IL-6|NC","IL-6|NK","IL-6|HC","IL-6|HK","sB3","IFN-γ|NC","IFN-γ|NK","IFN-γ|HC","IFN-γ|HK","sB4","TNF-α|NC","TNF-α|NK","TNF-α|HC","TNF-α|HK","sB5","IL-17A|NC","IL-17A|NK","IL-17A|HC","IL-17A|HK","sB6","IL-10|NC","IL-10|NK","IL-10|HC","IL-10|HK"],"paddingInner":0.244,"paddingOuter":0.66}},"xOffset":{"field":"r","type":"nominal","scale":{"paddingInner":0,"paddingOuter":0}},"y":{"field":"v","type":"quantitative","title":"pg/ml","scale":{"domain":[1,5],"range":[230.3,176.6],"clamp":true,"zero":false,"nice":false}},
     "color":{"field":"c","type":"nominal","scale":{"domain":["NC","NK","HC","HK"],"range":["#2F52A3","#E4272B","#2F52A3","#E4272B"]}},
     "shape":{"field":"c","type":"nominal","scale":{"domain":["NC","NK","HC","HK"],"range":["circle","circle","triangle-up","triangle-up"]}}}}
  ]},
  {"layer":[
   {"data":{"name":"kb"},"transform":[{"filter":"datum.y>=1&&datum.y<5"}],"mark":{"type":"rule","color":"#666","strokeWidth":1.3},
    "encoding":{"x":{"field":"a","type":"nominal","scale":{"domain":["IL-2|NC","IL-2|NK","IL-2|HC","IL-2|HK","sB1","IL-4|NC","IL-4|NK","IL-4|HC","IL-4|HK","sB2","IL-6|NC","IL-6|NK","IL-6|HC","IL-6|HK","sB3","IFN-γ|NC","IFN-γ|NK","IFN-γ|HC","IFN-γ|HK","sB4","TNF-α|NC","TNF-α|NK","TNF-α|HC","TNF-α|HK","sB5","IL-17A|NC","IL-17A|NK","IL-17A|HC","IL-17A|HK","sB6","IL-10|NC","IL-10|NK","IL-10|HC","IL-10|HK"],"paddingInner":0.244,"paddingOuter":0.66}},"x2":{"field":"b"},"y":{"field":"y","type":"quantitative","scale":{"domain":[1,5],"range":[230.3,176.6],"zero":false,"nice":false},"axis":null}}},
   {"data":{"name":"kb"},"transform":[{"filter":"datum.y>=1&&datum.y<5"},{"fold":["a","b"],"as":["end","s"]}],"mark":{"type":"point","shape":"M0,-1L0,1","size":30,"color":"#666","strokeWidth":1.3,"opacity":1},
    "encoding":{"x":{"field":"s","type":"nominal","scale":{"domain":["IL-2|NC","IL-2|NK","IL-2|HC","IL-2|HK","sB1","IL-4|NC","IL-4|NK","IL-4|HC","IL-4|HK","sB2","IL-6|NC","IL-6|NK","IL-6|HC","IL-6|HK","sB3","IFN-γ|NC","IFN-γ|NK","IFN-γ|HC","IFN-γ|HK","sB4","TNF-α|NC","TNF-α|NK","TNF-α|HC","TNF-α|HK","sB5","IL-17A|NC","IL-17A|NK","IL-17A|HC","IL-17A|HK","sB6","IL-10|NC","IL-10|NK","IL-10|HC","IL-10|HK"],"paddingInner":0.244,"paddingOuter":0.66}},"y":{"field":"y","type":"quantitative","scale":{"domain":[1,5],"range":[230.3,176.6],"zero":false,"nice":false},"axis":null}}},
   {"data":{"name":"kb"},"transform":[{"filter":"datum.y>=1&&datum.y<5"},{"calculate":"(indexof(D,datum.a)+indexof(D,datum.b))/2","as":"mi"},{"filter":"datum.mi%1==0"},{"calculate":"D[datum.mi]","as":"s"}],"mark":{"type":"text","fontSize":12.5,"fontWeight":"bold","baseline":"alphabetic","dy":-1,"color":"#222"},
    "encoding":{"x":{"field":"s","type":"nominal","scale":{"domain":["IL-2|NC","IL-2|NK","IL-2|HC","IL-2|HK","sB1","IL-4|NC","IL-4|NK","IL-4|HC","IL-4|HK","sB2","IL-6|NC","IL-6|NK","IL-6|HC","IL-6|HK","sB3","IFN-γ|NC","IFN-γ|NK","IFN-γ|HC","IFN-γ|HK","sB4","TNF-α|NC","TNF-α|NK","TNF-α|HC","TNF-α|HK","sB5","IL-17A|NC","IL-17A|NK","IL-17A|HC","IL-17A|HK","sB6","IL-10|NC","IL-10|NK","IL-10|HC","IL-10|HK"],"paddingInner":0.244,"paddingOuter":0.66}},"y":{"field":"y","type":"quantitative","scale":{"domain":[1,5],"range":[230.3,176.6],"zero":false,"nice":false},"axis":null},"text":{"field":"t"}}}
  ]},
  {"layer":[
   {"data":{"name":"b"},"transform":[{"calculate":"datum.g+'|'+datum.c","as":"s"}],"mark":{"type":"bar","strokeWidth":1},
    "encoding":{"x":{"field":"s","type":"nominal","scale":{"domain":["IL-2|NC","IL-2|NK","IL-2|HC","IL-2|HK","sB1","IL-4|NC","IL-4|NK","IL-4|HC","IL-4|HK","sB2","IL-6|NC","IL-6|NK","IL-6|HC","IL-6|HK","sB3","IFN-γ|NC","IFN-γ|NK","IFN-γ|HC","IFN-γ|HK","sB4","TNF-α|NC","TNF-α|NK","TNF-α|HC","TNF-α|HK","sB5","IL-17A|NC","IL-17A|NK","IL-17A|HC","IL-17A|HK","sB6","IL-10|NC","IL-10|NK","IL-10|HC","IL-10|HK"],"paddingInner":0.244,"paddingOuter":0.66},"axis":{"values":["IL-2|NK","IL-4|NK","IL-6|NK","IFN-γ|NK","TNF-α|NK","IL-17A|NK","IL-10|NK"],"bandPosition":1.161,"labelExpr":"split(datum.value,'|')[0]","labelAngle":-45,"labelFontSize":17.5,"title":null,"tickSize":6}},
     "y":{"aggregate":"mean","field":"v","type":"quantitative","scale":{"domain":[0,1],"range":[298.3,246],"clamp":true,"zero":false,"nice":false},"axis":{"orient":"left","values":[0,1],"format":"d","labelFontSize":17.5,"title":null}},
     "fill":{"field":"c","type":"nominal","scale":{"domain":["NC","NK","HC","HK"],"range":["#9DC3E6","#F4A7A7","#3F6299","#C95A5A"]},"legend":null},
     "stroke":{"field":"c","type":"nominal","scale":{"domain":["NC","NK","HC","HK"],"range":["#88B0DE","#EF9494","#2E4F86","#B94646"]},"legend":null}}},
   {"data":{"name":"b"},"transform":[{"calculate":"datum.g+'|'+datum.c","as":"s"},{"joinaggregate":[{"op":"mean","field":"v","as":"m"}],"groupby":["s"]},{"filter":"datum.m<1"}],"mark":{"type":"errorbar","extent":"stderr","color":"#555","ticks":{"size":7,"thickness":1.2},"rule":{"strokeWidth":1.2}},
    "encoding":{"x":{"field":"s","type":"nominal","scale":{"domain":["IL-2|NC","IL-2|NK","IL-2|HC","IL-2|HK","sB1","IL-4|NC","IL-4|NK","IL-4|HC","IL-4|HK","sB2","IL-6|NC","IL-6|NK","IL-6|HC","IL-6|HK","sB3","IFN-γ|NC","IFN-γ|NK","IFN-γ|HC","IFN-γ|HK","sB4","TNF-α|NC","TNF-α|NK","TNF-α|HC","TNF-α|HK","sB5","IL-17A|NC","IL-17A|NK","IL-17A|HC","IL-17A|HK","sB6","IL-10|NC","IL-10|NK","IL-10|HC","IL-10|HK"],"paddingInner":0.244,"paddingOuter":0.66}},"y":{"field":"v","type":"quantitative","scale":{"domain":[0,1],"range":[298.3,246],"clamp":true,"zero":false,"nice":false}}}},
   {"data":{"name":"b"},"transform":[{"calculate":"datum.g+'|'+datum.c","as":"s"},{"window":[{"op":"row_number","as":"r"}],"groupby":["s"]},{"filter":"datum.v<1"}],"mark":{"type":"point","filled":true,"size":24,"opacity":1},
    "encoding":{"x":{"field":"s","type":"nominal","scale":{"domain":["IL-2|NC","IL-2|NK","IL-2|HC","IL-2|HK","sB1","IL-4|NC","IL-4|NK","IL-4|HC","IL-4|HK","sB2","IL-6|NC","IL-6|NK","IL-6|HC","IL-6|HK","sB3","IFN-γ|NC","IFN-γ|NK","IFN-γ|HC","IFN-γ|HK","sB4","TNF-α|NC","TNF-α|NK","TNF-α|HC","TNF-α|HK","sB5","IL-17A|NC","IL-17A|NK","IL-17A|HC","IL-17A|HK","sB6","IL-10|NC","IL-10|NK","IL-10|HC","IL-10|HK"],"paddingInner":0.244,"paddingOuter":0.66}},"xOffset":{"field":"r","type":"nominal","scale":{"paddingInner":0,"paddingOuter":0}},"y":{"field":"v","type":"quantitative","scale":{"domain":[0,1],"range":[298.3,246],"clamp":true,"zero":false,"nice":false}},
     "color":{"field":"c","type":"nominal","scale":{"domain":["NC","NK","HC","HK"],"range":["#2F52A3","#E4272B","#2F52A3","#E4272B"]}},
     "shape":{"field":"c","type":"nominal","scale":{"domain":["NC","NK","HC","HK"],"range":["circle","circle","triangle-up","triangle-up"]}}}}
  ]}
 ]}
],"resolve":{"legend":{"color":"independent","shape":"independent"}}}
],
"spacing":33,"resolve":{"legend":{"color":"independent","shape":"independent"}}
}
